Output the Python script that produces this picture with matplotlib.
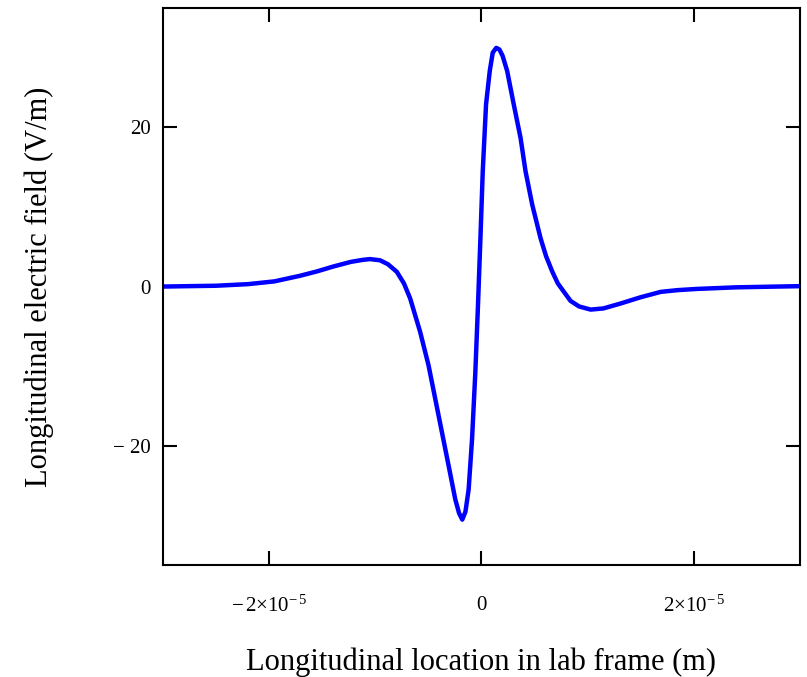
#!/usr/bin/env python3

import numpy as np
import matplotlib.pyplot as plt

# longitudinal position (micrometres) and field (V/m)
z_um = [-30, -25, -22, -19.5, -17.1, -15.5, -14.0, -12.3, -11.2, -10.5,
        -9.55, -8.8, -7.97, -7.3, -6.71, -5.77, -4.98, -4.35, -3.72, -3.09,
        -2.46, -2.1, -1.8, -1.5, -1.2, -0.88, -0.57, -0.32, -0.09, 0.13,
        0.44, 0.79, 1.07, 1.4, 1.7, 2.0, 2.43, 3.05, 3.69, 4.16,
        4.79, 5.58, 6.1, 6.69, 7.2, 7.78, 8.4, 9.2, 10.3, 11.5,
        13.1, 15.0, 16.9, 18.5, 20.3, 24, 30]
ez = [0.0, 0.1, 0.3, 0.65, 1.35, 1.9, 2.5, 3.1, 3.35, 3.45,
      3.3, 2.8, 1.85, 0.4, -1.5, -5.7, -9.9, -14.1, -18.3, -22.5,
      -26.75, -28.5, -29.3, -28.3, -25.5, -19.2, -10.8, -2.36, 6.06, 14.5,
      22.9, 27.1, 29.4, 30.0, 29.8, 29.0, 27.1, 22.9, 18.7, 14.5,
      10.3, 6.06, 3.8, 1.85, 0.4, -0.67, -1.8, -2.5, -2.9, -2.75,
      -2.14, -1.35, -0.67, -0.45, -0.3, -0.1, 0.05]

xticks = [-2e-5, 0, 2e-5]
xticklabels = [r'$\mathrm{-\,2{\times}10^{-\,5}}$', '0', r'$\mathrm{2{\times}10^{-\,5}}$']
yticks = [-20, 0, 20]
yticklabels = ['\u2212 20', '0', '20']

plt.rcParams['font.family'] = ['Liberation Serif', 'DejaVu Serif']
plt.rcParams['mathtext.fontset'] = 'custom'
plt.rcParams['mathtext.rm'] = 'Liberation Serif'
plt.rcParams['mathtext.it'] = 'Liberation Serif:italic'

fig = plt.figure(figsize=(8.07, 6.77), dpi=100)
ax = fig.add_axes([0.202, 0.1655, 0.789, 0.8225])

z = np.array(z_um) * 1e-6
ax.plot(z, ez, color='#0000ff', lw=3.2, solid_joinstyle='round')

ax.set_xlim(-3e-5, 3e-5)
ax.set_ylim(-35, 35)
ax.set_xticks(xticks)
ax.set_xticklabels(xticklabels)
ax.set_yticks(yticks)
ax.set_yticklabels(yticklabels)

ax.tick_params(direction='in', length=10, width=1.5, top=True, right=True,
               labelsize=15, colors='black')
ax.tick_params(axis='x', pad=22)
ax.tick_params(axis='y', pad=9)
for s in ax.spines.values():
    s.set_linewidth(1.5)

ax.set_xlabel('Longitudinal location in lab frame (m)', fontsize=22, labelpad=22)
ax.set_ylabel('Longitudinal electric field (V/m)', fontsize=22, labelpad=42)

fig.savefig('out.png', dpi=100)
